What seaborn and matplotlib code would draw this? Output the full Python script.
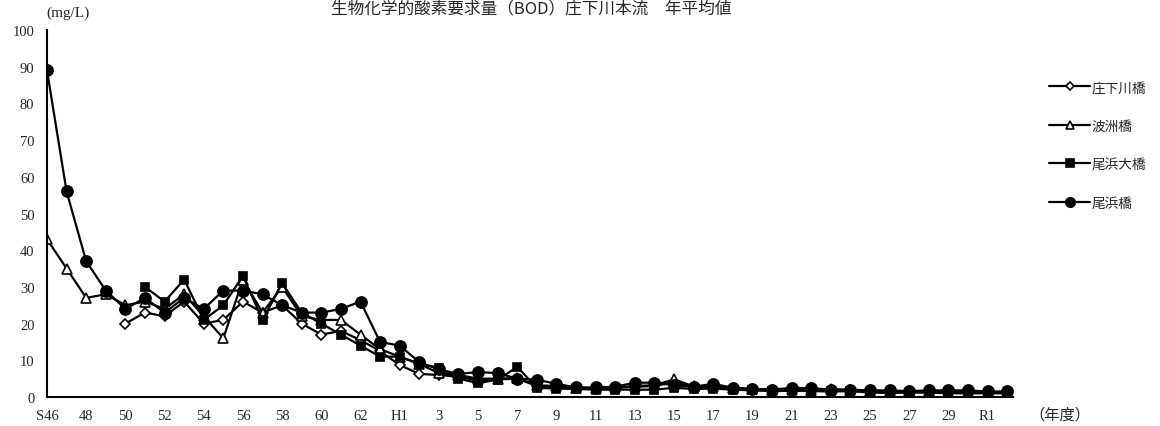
import numpy as np
import pandas as pd
import seaborn as sns
import matplotlib.pyplot as plt

# data (year 1971 = S46 ... 2020 = R2)
years = list(range(1971, 2021))
nan = np.nan

shoge_bashi = [nan, nan, nan, nan, 20, 23, 22, 26, 20, 21,
               26, 23, 25, 20, 17, 18, 15.5, 12.5, 8.7, 6.3,
               6.0, 5.5, 4.5, 4.8, 5.0, 3.0, 2.8, 2.5, 2.3, 2.5,
               2.8, 3.0, 4.0, 2.7, 2.8, 2.4, 2.0, 1.9, 2.0, 1.9,
               2.0, 1.8, 1.5, 1.5, 1.5, 1.4, 1.3, 1.3, 1.2, 1.2]
hasu_bashi = [43, 35, 27, 28, 25, 26, 24, 28, 22, 16,
              32, 23, 30, 22, 21, 21, 17, 13, 11, 9,
              6.5, 6.0, 5.0, 5.0, 5.2, 3.2, 3.0, 2.5, 2.4, 2.6,
              3.0, 3.2, 4.8, 2.9, 3.0, 2.5, 2.2, 2.0, 2.2, 2.0,
              2.1, 1.9, 1.6, 1.6, 1.6, 1.5, 1.4, 1.4, 1.3, 1.3]
obama_ohashi = [nan, nan, nan, nan, nan, 30, 26, 32, 21, 25,
                33, 21, 31, 23, 20, 17, 14, 11, 11, 9,
                8, 5, 3.8, 4.7, 8.2, 2.5, 2.3, 2.2, 2.0, 2.0,
                2.0, 2.0, 2.5, 2.2, 2.3, 2.0, 1.8, 1.6, 1.7, 1.6,
                1.5, 1.6, 1.2, 1.1, 1.2, 1.2, 1.0, 1.0, 1.0, 1.0]
obama_bashi = [89, 56, 37, 29, 24, 27, 23, 27, 24, 29,
               29, 28, 25, 23, 23, 24, 26, 15, 14, 9.5,
               7.5, 6.3, 6.8, 6.5, 5.0, 4.7, 3.6, 2.6, 2.6, 2.8,
               3.9, 3.9, 3.2, 2.8, 3.6, 2.5, 2.1, 2.0, 2.5, 2.4,
               2.0, 2.0, 1.8, 1.8, 1.6, 1.8, 1.8, 1.8, 1.5, 1.5]

series_names = ['庄下川橋', '波洲橋', '尾浜大橋', '尾浜橋']
series_values = [shoge_bashi, hasu_bashi, obama_ohashi, obama_bashi]

tick_years = list(range(1971, 2021, 2))
tick_labels = ['S46', '48', '50', '52', '54', '56', '58', '60', '62', 'H1',
               '3', '5', '7', '9', '11', '13', '15', '17', '19', '21',
               '23', '25', '27', '29', 'R1']

sns.set_style('white')
plt.rcParams['font.family'] = ['Noto Sans CJK JP', 'DejaVu Sans']
serif = ['Liberation Serif', 'Noto Sans CJK JP']

fig = plt.figure(figsize=(11.6, 4.27), dpi=100)
ax = fig.add_axes([47 / 1160, 1 - 398 / 427, (1013 - 47) / 1160, (398 - 31) / 427])

styles = {
    '庄下川橋': dict(marker='D', markersize=4.8, markerfacecolor='white'),
    '波洲橋': dict(marker='^', markersize=6.5, markerfacecolor='white'),
    '尾浜大橋': dict(marker='s', markersize=6.3, markerfacecolor='black'),
    '尾浜橋': dict(marker='o', markersize=8, markerfacecolor='black'),
}

for name, vals in zip(series_names, series_values):
    df = pd.DataFrame({'year': years, 'bod': vals}).dropna()
    sns.lineplot(data=df, x='year', y='bod', ax=ax, color='black', linewidth=1.6,
                 markeredgecolor='black', markeredgewidth=1.2, label=name,
                 **styles[name])

ax.set_xlim(1971, 2020.3)
ax.set_ylim(0, 100)
ax.set_yticks(range(0, 101, 10))
ax.set_xticks(years)
ax.set_xticklabels([tick_labels[tick_years.index(y)] if y in tick_years else '' for y in years])
ax.tick_params(axis='both', direction='in', length=4, width=1, color='black', labelsize=10.5)
ax.tick_params(axis='x', pad=9)
ax.tick_params(axis='y', pad=9)
for lab in ax.get_xticklabels() + ax.get_yticklabels():
    lab.set_family(serif)
ax.set_xlabel('')
ax.set_ylabel('')
for side in ['top', 'right']:
    ax.spines[side].set_visible(False)
for side in ['left', 'bottom']:
    ax.spines[side].set_color('black')
    ax.spines[side].set_linewidth(1.5)

fig.text(0.458, 1.0, '生物化学的酸素要求量（BOD）庄下川本流　年平均値', ha='center', va='top', fontsize=12)
fig.text(0.040, 0.968, '(mg/L)', ha='left', va='center', fontsize=11, family=serif)
fig.text(0.887, 0.028, '（年度）', ha='left', va='center', fontsize=11)

leg = ax.legend(loc='upper left', bbox_to_anchor=(0.894, 1 - 69 / 427), bbox_transform=fig.transFigure,
                frameon=False, fontsize=9.8, handlelength=3.0, handletextpad=0.1, labelspacing=1.8)
for h in leg.legend_handles:
    h.set_markersize(h.get_markersize() * 0.85)

fig.savefig('out.png', dpi=100)
